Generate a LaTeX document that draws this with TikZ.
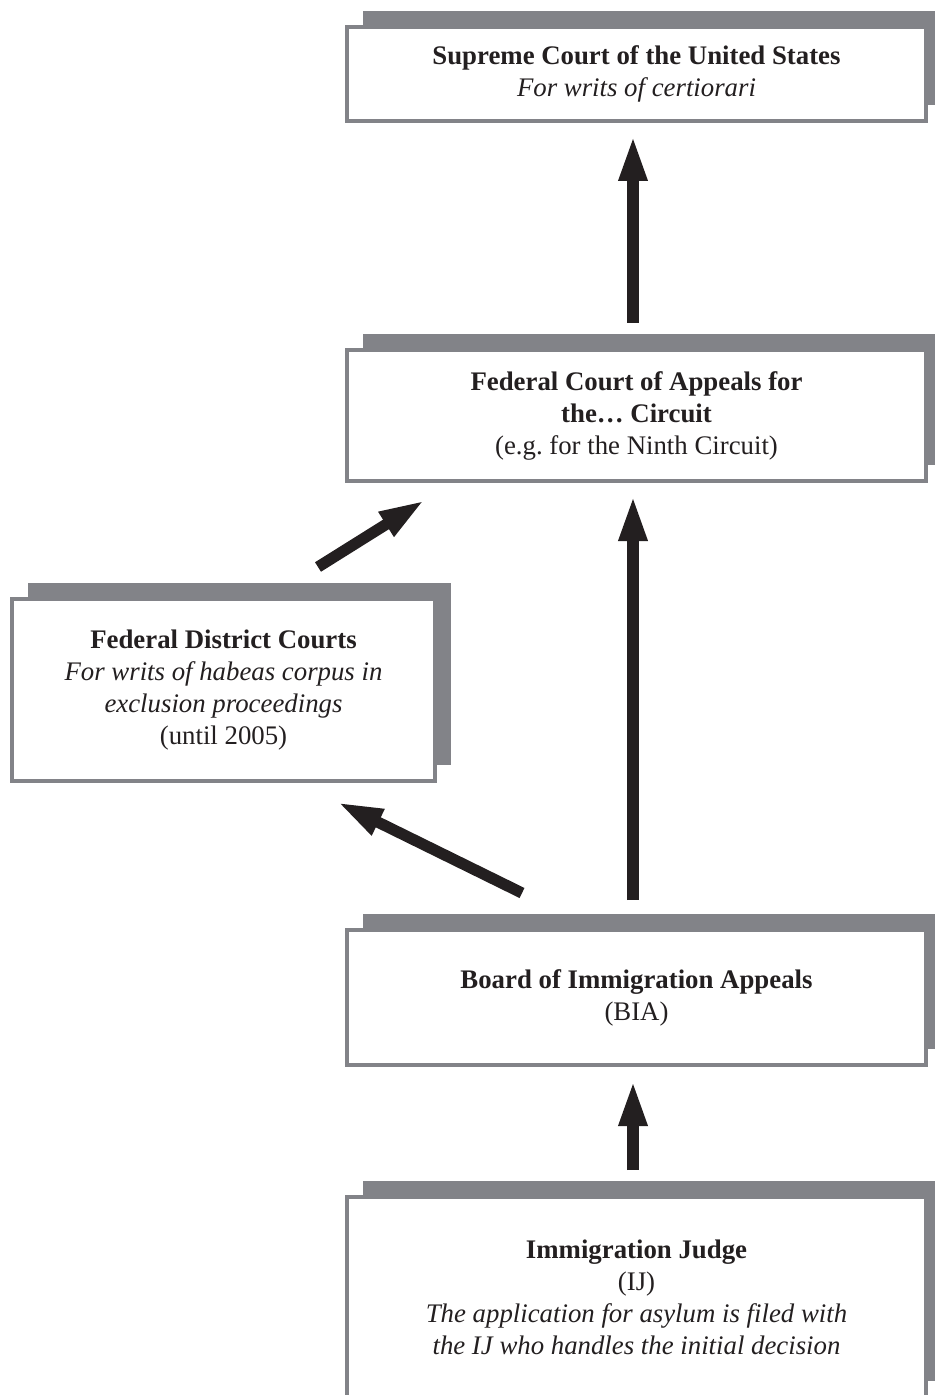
\documentclass[tikz,border=0pt]{standalone}
\usepackage{fontspec}
\setmainfont{Liberation Serif}
\usetikzlibrary{arrows.meta,shadows}

\definecolor{boxgray}{RGB}{130,131,136}
\definecolor{inkblack}{RGB}{35,31,32}

\tikzset{
  court/.style={draw=boxgray, line width=2pt, fill=white, align=center,
    text=inkblack, inner sep=0pt,
    font=\fontsize{13.4}{16}\selectfont,
    general shadow={fill=boxgray, shadow xshift=7.8pt, shadow yshift=7.8pt}},
  wide court/.style={court, minimum width=289.5pt},
  appeal/.style={-{Triangle[length=23pt,width=13pt]}, line width=5.6pt, draw=inkblack}
}

\begin{document}
\begin{tikzpicture}[x=0.5pt,y=-0.5pt]
%\draw[help lines, color=gray!30] (0,0) grid[step=50] (935,1395);
\clip (0,0) rectangle (935,1395);
\node[wide court, minimum height=47pt] (supreme) at (636.5,74)
  {\textbf{Supreme Court of the United States}\\ \textit{For writs of certiorari}};
\node[wide court, minimum height=65.5pt] (appeals) at (636.5,415.5)
  {\textbf{Federal Court of Appeals for}\\ \textbf{the… Circuit}\\ (e.g.\ for the Ninth Circuit)};
\node[court, minimum width=211.5pt, minimum height=91pt] (district) at (223.5,690)
  {\textbf{Federal District Courts}\\ \textit{For writs of habeas corpus in}\\
   \textit{exclusion proceedings}\\ (until 2005)};
\node[wide court, minimum height=67.5pt] (bia) at (636.5,997.5)
  {\textbf{Board of Immigration Appeals}\\ (BIA)};
\node[wide court, minimum height=100pt] (ij) at (636.5,1297)
  {\textbf{Immigration Judge}\\ (IJ)\\ \textit{The application for asylum is filed with}\\
   \textit{the IJ who handles the initial decision}};
% free ends of the slanted arrows
\coordinate (district_out) at (318,567);
\coordinate (appeals_in) at (425,500);
\coordinate (bia_out) at (522,893);
\coordinate (district_in) at (337,802);
\draw [appeal, shorten <=12.5pt, shorten >=6pt] ([xshift=-1.75pt]appeals.north) -- ([xshift=-1.75pt]supreme.south);
\draw [appeal, shorten <=14pt, shorten >=6pt] ([xshift=-1.75pt]bia.north) -- ([xshift=-1.75pt]appeals.south);
\draw [appeal, shorten <=12.5pt, shorten >=6.5pt] ([xshift=-1.75pt]ij.north) -- ([xshift=-1.75pt]bia.south);
\draw [appeal] (district_out) -- (appeals_in);
\draw [appeal] (bia_out) -- (district_in);
\end{tikzpicture}
\end{document}
